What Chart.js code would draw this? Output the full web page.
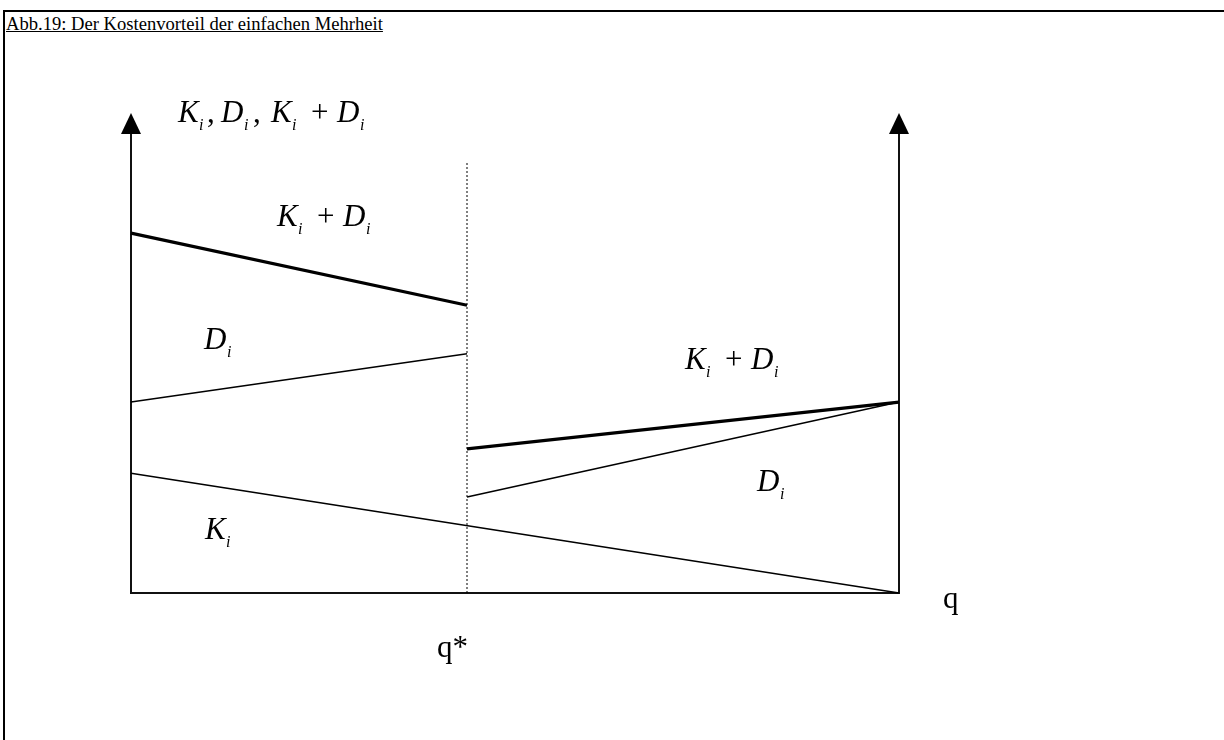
<!DOCTYPE html>
<html lang="de">
<head>
<meta charset="UTF-8">
<title>Abb.19</title>
<style>
  html, body { margin: 0; padding: 0; background: #fff; }
  #frame { position: absolute; left: 3px; top: 10px; width: 1221px; height: 730px;
           border-top: 2px solid #000; border-left: 2px solid #000; }
  #title { position: absolute; left: 6px; top: 13px; font: 18.6px "Liberation Serif", serif;
           text-decoration: underline; color: #000; }
  #wrap { position: absolute; left: 0; top: 0; width: 1224px; height: 740px; }
</style>
</head>
<body>
<div id="frame"></div>
<div id="title">Abb.19: Der Kostenvorteil der einfachen Mehrheit</div>
<div id="wrap"><canvas id="myChart"></canvas></div>

<script src="https://cdn.jsdelivr.net/npm/chart.js"></script>
<script>
  // q axis runs 0..qMax, costs 0..yMax (arbitrary units)
  const qMax = 10;
  const yMax = 10;
  const qStar = 4.375;
  const dottedTop = 9.39;

  // values at q = 0 and q = qMax
  const kCosts = [2.61, 0];
  // values at q = 0 and q = q*
  const dLeft = [4.16, 5.21];
  const sumLeft = [7.84, 6.27];
  // values at q = q* and q = qMax
  const dRight = [2.09, 4.16];
  const sumRight = [3.14, 4.16];

  const ctx = document.getElementById('myChart');

  function seg(x0, x1, vals, width, dash) {
    return {
      data: [{x: x0, y: vals[0]}, {x: x1, y: vals[1]}],
      showLine: true,
      borderColor: '#000',
      borderWidth: width,
      borderDash: dash || [],
      pointRadius: 0,
      clip: false
    };
  }

  const serif = '"Liberation Serif", "Times New Roman", serif';
  const SIZE = 31;

  // parts: [text, kind, dx] with kind 'it' | 'sub' | 'rm', dx offset from label start
  function drawMath(c, parts, x, y) {
    parts.forEach(p => {
      const text = p[0], kind = p[1], dx = p[2];
      if (kind === 'sub') {
        c.font = 'italic 16px ' + serif;
        c.fillText(text, x + dx, y + 8);
      } else {
        c.font = (kind === 'it' ? 'italic ' : '') + SIZE + 'px ' + serif;
        c.fillText(text, x + dx, y);
      }
    });
  }

  function shift(parts, d) { return parts.map(p => [p[0], p[1], p[2] + d]); }
  const KI = [['K', 'it', 0], ['i', 'sub', 21]];
  const DI = [['D', 'it', 0], ['i', 'sub', 23]];
  const KD = KI.concat([['+', 'rm', 40]], shift(DI, 66));
  const ALL = KI.concat([[',', 'rm', 29]], shift(DI, 43), [[',', 'rm', 75]], shift(KD, 93));

  const decorations = {
    id: 'decorations',
    afterDraw(chart) {
      const c = chart.ctx;
      const a = chart.chartArea;
      c.save();
      c.fillStyle = '#000';
      // arrow heads on both vertical axes
      [a.left, a.right].forEach(x => {
        c.beginPath();
        c.moveTo(x, a.top - 21);
        c.lineTo(x - 10, a.top);
        c.lineTo(x + 10, a.top);
        c.closePath();
        c.fill();
      });

      c.textBaseline = 'alphabetic';
      drawMath(c, ALL, 178, 122);
      drawMath(c, KD, 277, 226);
      drawMath(c, DI, 204, 349);
      drawMath(c, KD, 685, 369);
      drawMath(c, DI, 757, 491);
      drawMath(c, KI, 205, 539);

      c.font = '31px ' + serif;
      c.fillText('q*', 437, 657);
      c.fillText('q', 943, 608);
      c.restore();
    }
  };

  const noAxisDecor = {
    ticks: { display: false },
    grid: { display: false, drawTicks: false },
    border: { display: true, color: '#111', width: 2 }
  };

  new Chart(ctx, {
    type: 'scatter',
    data: {
      datasets: [
        seg(0, qMax, kCosts, 1.5),
        seg(0, qStar, dLeft, 1.5),
        seg(0, qStar, sumLeft, 3.2),
        seg(qStar, qMax, dRight, 1.5),
        seg(qStar, qMax, sumRight, 3.2),
        seg(qStar, qStar, [0, dottedTop], 1, [2, 2])
      ]
    },
    options: {
      responsive: true,
      maintainAspectRatio: false,
      animation: false,
      events: [],
      layout: { padding: { left: 131, right: 325, top: 134, bottom: 147 } },
      plugins: { legend: { display: false }, tooltip: { enabled: false } },
      scales: {
        x: Object.assign({ type: 'linear', min: 0, max: qMax }, noAxisDecor),
        y: Object.assign({ type: 'linear', min: 0, max: yMax }, noAxisDecor),
        y2: Object.assign({ type: 'linear', position: 'right', min: 0, max: yMax }, noAxisDecor)
      }
    },
    plugins: [decorations]
  });
</script>
</body>
</html>
